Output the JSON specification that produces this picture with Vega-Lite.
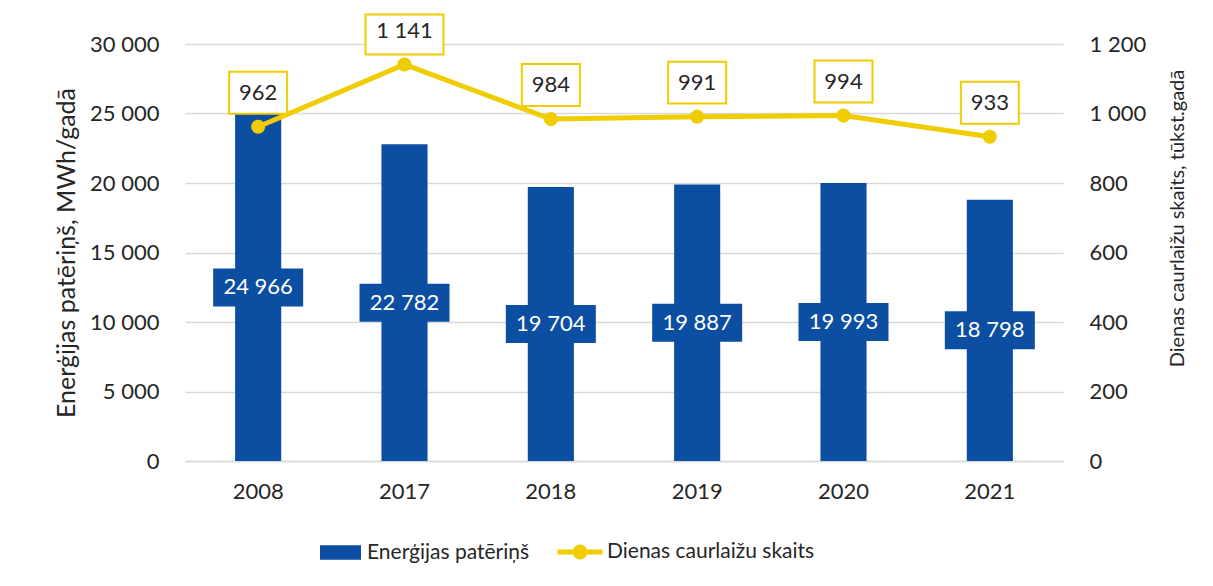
{
  "$schema": "https://vega.github.io/schema/vega-lite/v6.json",
  "width": 878,
  "height": 417,
  "autosize": {"type": "none"},
  "padding": {"left": 185, "top": 44, "right": 150, "bottom": 125},
  "background": "white",
  "config": {
    "locale": {"number": {"decimal": ",", "thousands": " ", "grouping": [3], "currency": ["", " €"]}},
    "font": "Lato",
    "view": {"stroke": null},
    "axis": {
      "labelFont": "Lato", "labelFontSize": 22, "labelColor": "#262626",
      "titleFont": "Lato", "titleFontSize": 22, "titleFontWeight": "normal", "titleColor": "#262626",
      "ticks": false, "domain": false, "gridColor": "#D9D9D9", "gridWidth": 1.5
    },
    "legend": {"labelFont": "Lato", "labelFontSize": 21, "labelColor": "#262626", "labelLimit": 500}
  },
  "data": {
    "values": [
      {"year": "2008", "energy": 24966, "passes": 962},
      {"year": "2017", "energy": 22782, "passes": 1141},
      {"year": "2018", "energy": 19704, "passes": 984},
      {"year": "2019", "energy": 19887, "passes": 991},
      {"year": "2020", "energy": 19993, "passes": 994},
      {"year": "2021", "energy": 18798, "passes": 933}
    ]
  },
  "encoding": {
    "x": {
      "field": "year", "type": "nominal",
      "scale": {"paddingInner": 0.685, "paddingOuter": 0.3425},
      "axis": {"title": null, "labelAngle": 0, "labelPadding": 20, "domain": true, "domainColor": "#D9D9D9", "domainWidth": 1.5}
    }
  },
  "layer": [
    {
      "mark": {"type": "bar"},
      "encoding": {
        "y": {
          "field": "energy", "type": "quantitative",
          "scale": {"domain": [0, 30000]},
          "axis": {"title": "Enerģijas patēriņš, MWh/gadā", "titleFontSize": 25, "format": ",d", "values": [0, 5000, 10000, 15000, 20000, 25000, 30000], "grid": true, "labelPadding": 26, "titlePadding": 10}
        },
        "fill": {
          "datum": "Enerģijas patēriņš", "type": "nominal",
          "scale": {"range": ["#0B4EA2"]},
          "legend": {"orient": "none", "legendX": 135, "legendY": 488, "title": null, "symbolType": "M-1,-0.35H1V0.35H-1Z", "symbolSize": 1681, "symbolStrokeWidth": 0, "labelOffset": 6}
        }
      }
    },
    {
      "mark": {"type": "point", "shape": "M-1,-0.422H1V0.422H-1Z", "size": 8100, "filled": true, "color": "#0B4EA2", "opacity": 1, "strokeWidth": 0},
      "encoding": {"y": {"field": "energy", "type": "quantitative", "scale": {"domain": [0, 60000]}, "axis": null}}
    },
    {
      "mark": {"type": "text", "color": "white", "fontSize": 22, "font": "Lato"},
      "encoding": {
        "y": {"field": "energy", "type": "quantitative", "scale": {"domain": [0, 60000]}, "axis": null},
        "text": {"field": "energy", "type": "quantitative", "format": ",d"}
      }
    },
    {
      "mark": {"type": "line", "strokeWidth": 5},
      "encoding": {
        "y": {
          "field": "passes", "type": "quantitative",
          "scale": {"domain": [0, 1200]},
          "axis": {"orient": "right", "title": "Dienas caurlaižu skaits, tūkst.gadā", "titleFontSize": 20, "titleAngle": 270, "titleX": 114, "titleY": 174, "titleBaseline": "middle", "titleAlign": "center", "format": ",d", "values": [0, 200, 400, 600, 800, 1000, 1200], "grid": false, "labelPadding": 26}
        },
        "stroke": {
          "datum": "Dienas caurlaižu skaits", "type": "nominal",
          "scale": {"range": ["#F0CC00"]},
          "legend": {"orient": "none", "legendX": 370, "legendY": 483, "title": null, "symbolType": "M-1,0H1M-0.22,0A0.22,0.22 0 1,0 0.22,0A0.22,0.22 0 1,0 -0.22,0Z", "symbolSize": 2025, "symbolStrokeWidth": 5, "symbolFillColor": "#F0CC00", "labelOffset": 2}
        }
      }
    },
    {
      "mark": {"type": "circle", "size": 200, "color": "#F0CC00", "opacity": 1},
      "encoding": {"y": {"field": "passes", "type": "quantitative", "scale": {"domain": [0, 1200]}, "axis": null}}
    },
    {
      "transform": [{"filter": "datum.passes < 1000"}],
      "mark": {"type": "point", "shape": "M-1,-0.724H1V0.724H-1Z", "size": 3364, "filled": true, "fill": "white", "stroke": "#F0CC00", "strokeWidth": 2, "opacity": 1, "yOffset": -34},
      "encoding": {"y": {"field": "passes", "type": "quantitative", "scale": {"domain": [0, 1200]}, "axis": null}}
    },
    {
      "transform": [{"filter": "datum.passes >= 1000"}],
      "mark": {"type": "point", "shape": "M-1,-0.513H1V0.513H-1Z", "size": 6084, "filled": true, "fill": "white", "stroke": "#F0CC00", "strokeWidth": 2, "opacity": 1, "yOffset": -30},
      "encoding": {"y": {"field": "passes", "type": "quantitative", "scale": {"domain": [0, 1200]}, "axis": null}}
    },
    {
      "mark": {"type": "text", "color": "#262626", "fontSize": 22, "font": "Lato", "dy": -34},
      "encoding": {
        "y": {"field": "passes", "type": "quantitative", "scale": {"domain": [0, 1200]}, "axis": null},
        "text": {"field": "passes", "type": "quantitative", "format": ",d"}
      }
    }
  ],
  "resolve": {"scale": {"y": "independent"}}
}
